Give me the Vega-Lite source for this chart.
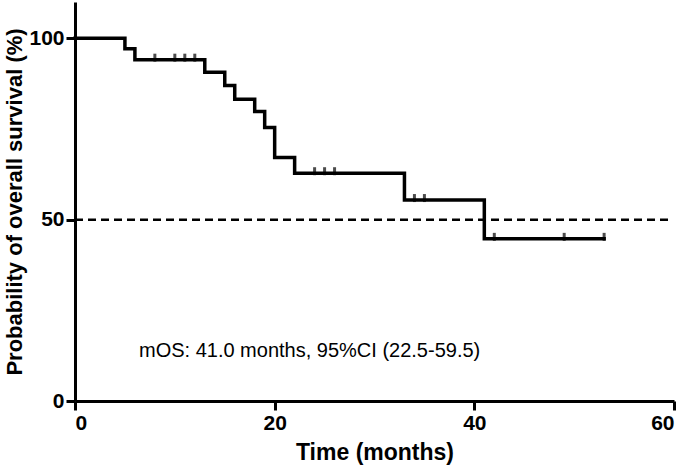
{
  "$schema": "https://vega.github.io/schema/vega-lite/v6.json",
  "width": 599,
  "height": 399,
  "autosize": {"type": "none"},
  "padding": {"left": 75, "top": 2, "right": 11, "bottom": 66},
  "background": "white",
  "config": {
    "view": {"stroke": null},
    "font": "Liberation Sans"
  },
  "datasets": {
    "curve": [
      {"time": 0, "survival": 100},
      {"time": 5, "survival": 97.1},
      {"time": 6, "survival": 94.1},
      {"time": 13, "survival": 90.6},
      {"time": 15, "survival": 87.0},
      {"time": 16, "survival": 83.2},
      {"time": 18, "survival": 79.8},
      {"time": 19, "survival": 75.4},
      {"time": 20, "survival": 67.1},
      {"time": 22, "survival": 62.8},
      {"time": 33, "survival": 55.4},
      {"time": 41, "survival": 44.7},
      {"time": 53, "survival": 44.7}
    ],
    "censored": [
      {"time": 8, "survival": 94.1},
      {"time": 10, "survival": 94.1},
      {"time": 11, "survival": 94.1},
      {"time": 12, "survival": 94.1},
      {"time": 24, "survival": 62.8},
      {"time": 25, "survival": 62.8},
      {"time": 26, "survival": 62.8},
      {"time": 34, "survival": 55.4},
      {"time": 35, "survival": 55.4},
      {"time": 42, "survival": 44.7},
      {"time": 49, "survival": 44.7},
      {"time": 53, "survival": 44.7}
    ]
  },
  "layer": [
    {
      "data": {"name": "curve"},
      "mark": {"type": "line", "interpolate": "step-after", "color": "black", "strokeWidth": 3.5, "strokeCap": "square"},
      "encoding": {
        "x": {
          "field": "time", "type": "quantitative",
          "scale": {"domain": [0, 60], "nice": false},
          "axis": {
            "values": [0, 20, 40, 60], "title": "Time (months)",
            "domainColor": "black", "domainWidth": 3, "tickColor": "black", "tickWidth": 3, "tickSize": 9, "grid": false,
            "labelFont": "Liberation Sans Narrow, Liberation Sans", "labelFontWeight": "bold", "labelFontSize": 21, "labelColor": "black", "labelPadding": 2,
            "titleFont": "Liberation Sans", "titleFontWeight": "bold", "titleFontSize": 23, "titleColor": "black", "titlePadding": 8
          }
        },
        "y": {
          "field": "survival", "type": "quantitative",
          "scale": {"domain": [0, 110], "nice": false},
          "axis": {
            "values": [0, 50, 100], "title": "Probability of overall survival (%)",
            "domainColor": "black", "domainWidth": 3, "tickColor": "black", "tickWidth": 3, "tickSize": 9, "grid": false,
            "labelFont": "Liberation Sans Narrow, Liberation Sans", "labelFontWeight": "bold", "labelFontSize": 21, "labelColor": "black", "labelPadding": 2,
            "titleFont": "Liberation Sans", "titleFontWeight": "bold", "titleFontSize": 22, "titleColor": "black", "titlePadding": 2
          }
        }
      }
    },
    {
      "data": {"values": [{"y": 50, "x0": 0, "x1": 59.5}]},
      "mark": {"type": "rule", "color": "black", "strokeWidth": 2.5, "strokeDash": [8, 5]},
      "encoding": {
        "x": {"field": "x0", "type": "quantitative"},
        "x2": {"field": "x1"},
        "y": {"field": "y", "type": "quantitative"}
      }
    },
    {
      "data": {"name": "censored"},
      "mark": {"type": "tick", "orient": "vertical", "color": "black", "thickness": 3, "size": 8, "yOffset": -2},
      "encoding": {
        "x": {"field": "time", "type": "quantitative"},
        "y": {"field": "survival", "type": "quantitative"}
      }
    },
    {
      "data": {"values": [{"label": "mOS: 41.0 months, 95%CI (22.5-59.5)"}]},
      "mark": {"type": "text", "font": "Liberation Sans", "fontSize": 20, "color": "black", "align": "center", "baseline": "alphabetic"},
      "encoding": {
        "x": {"datum": 23.5, "type": "quantitative"},
        "y": {"datum": 12, "type": "quantitative"},
        "text": {"field": "label"}
      }
    }
  ]
}
